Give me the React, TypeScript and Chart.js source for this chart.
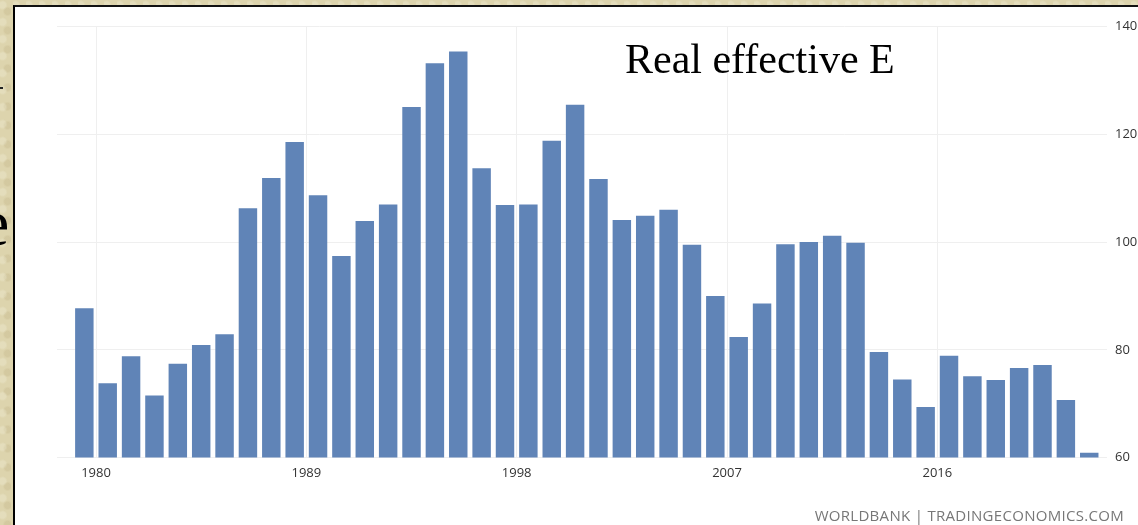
import { useEffect, useRef } from "react";
import { Chart, registerables } from "chart.js";

Chart.register(...registerables);

// Years covered by each bar (each bar spans its year)
const years = [
  1979, 1980, 1981, 1982, 1983, 1984, 1985, 1986, 1987, 1988, 1989,
  1990, 1991, 1992, 1993, 1994, 1995, 1996, 1997, 1998, 1999, 2000,
  2001, 2002, 2003, 2004, 2005, 2006, 2007, 2008, 2009, 2010, 2011,
  2012, 2013, 2014, 2015, 2016, 2017, 2018, 2019, 2020, 2021, 2022,
];

// Real effective exchange rate index
const values = [
  87.7, 73.8, 78.8, 71.5, 77.4, 80.9, 82.9, 106.3, 111.9, 118.6, 108.7,
  97.4, 103.9, 107.0, 125.1, 133.2, 135.4, 113.7, 106.9, 107.0, 118.8, 125.5,
  111.7, 104.1, 104.9, 106.0, 99.5, 90.0, 82.4, 88.6, 99.6, 100.0, 101.2,
  99.9, 79.6, 74.5, 69.4, 78.9, 75.1, 74.4, 76.6, 77.2, 70.7, 60.9,
];

const xTickYears = [1980, 1989, 1998, 2007, 2016];
const yTicks = [60, 80, 100, 120, 140];

const BAR = "#6084b7";
const TICK_COLOR = "#333333";
const GRID = "#efefef";
const FONT = { family: "'Open Sans', 'Noto Sans', sans-serif", size: 13 };

export default function App() {
  const ref = useRef<HTMLCanvasElement>(null);

  useEffect(() => {
    if (!ref.current) return;
    const chart = new Chart(ref.current, {
      type: "bar",
      data: {
        datasets: [
          {
            data: years.map((y, i) => ({ x: y + 0.5, y: values[i] })),
            backgroundColor: BAR,
            borderWidth: 0,
            barPercentage: 0.79,
            categoryPercentage: 1,
          },
        ],
      },
      options: {
        responsive: false,
        animation: false,
        layout: { padding: { left: 42, right: 0, top: 19.7, bottom: 41.5 } },
        plugins: {
          legend: { display: false },
          tooltip: { enabled: false },
        },
        scales: {
          x: {
            type: "linear",
            min: 1978.33,
            max: 2023.26,
            offset: false,
            afterBuildTicks: (axis: any) => {
              axis.ticks = xTickYears.map((v) => ({ value: v }));
            },
            afterFit: (axis: any) => {
              axis.height = 26;
            },
            grid: { color: GRID, drawTicks: false, offset: false },
            border: { display: false },
            ticks: {
              padding: 8,
              font: FONT,
              color: TICK_COLOR,
              maxRotation: 0,
              autoSkip: false,
              callback: (v: any) => String(v),
            },
          },
          y: {
            position: "right",
            min: 60,
            max: 140,
            afterBuildTicks: (axis: any) => {
              axis.ticks = yTicks.map((v) => ({ value: v }));
            },
            afterFit: (axis: any) => {
              axis.width = 31;
            },
            grid: { color: GRID, drawTicks: false },
            border: { display: false },
            ticks: {
              padding: 8,
              font: FONT,
              color: TICK_COLOR,
              callback: (v: any) => String(v),
            },
          },
        },
      },
    });
    return () => chart.destroy();
  }, []);

  return (
    <div
      style={{
        position: "fixed",
        inset: 0,
        overflow: "hidden",
        backgroundColor: "#ddd4ad",
        backgroundImage:
          "radial-gradient(circle at 20% 30%, rgba(255,255,240,0.22) 0 3px, transparent 5px), radial-gradient(circle at 70% 60%, rgba(170,150,100,0.18) 0 3px, transparent 5px)",
        backgroundSize: "13px 17px, 11px 19px",
      }}
    >
      {/* slide text peeking from the left */}
      <div
        style={{
          position: "absolute",
          left: -20,
          top: 190,
          fontFamily: "'Liberation Serif', 'Times New Roman', serif",
          fontSize: 66,
          lineHeight: 1,
          color: "#000",
        }}
      >
        e
      </div>
      <div
        style={{
          position: "absolute",
          left: 0,
          top: 87,
          width: 3,
          height: 2,
          background: "#222",
        }}
      />
      {/* white panel */}
      <div
        style={{
          position: "absolute",
          left: 13,
          top: 5,
          right: 0,
          bottom: 0,
          background: "#fff",
          borderLeft: "2px solid #000",
          borderTop: "2px solid #111",
        }}
      >
        <canvas
          ref={ref}
          width={1123}
          height={518}
          style={{ position: "absolute", left: 0, top: 0, width: 1123, height: 518 }}
        />
        <div
          style={{
            position: "absolute",
            left: 610,
            top: 31,
            fontFamily: "'Liberation Serif', 'Times New Roman', serif",
            fontSize: 42,
            lineHeight: 1,
            color: "#000",
            whiteSpace: "nowrap",
          }}
        >
          Real effective E
        </div>
        <div
          style={{
            position: "absolute",
            right: 14,
            top: 501,
            fontFamily: "'Open Sans', 'Noto Sans', sans-serif",
            fontSize: 15,
            lineHeight: 1,
            letterSpacing: 0.3,
            color: "#777",
            whiteSpace: "nowrap",
          }}
        >
          WORLDBANK | TRADINGECONOMICS.COM
        </div>
      </div>
    </div>
  );
}
